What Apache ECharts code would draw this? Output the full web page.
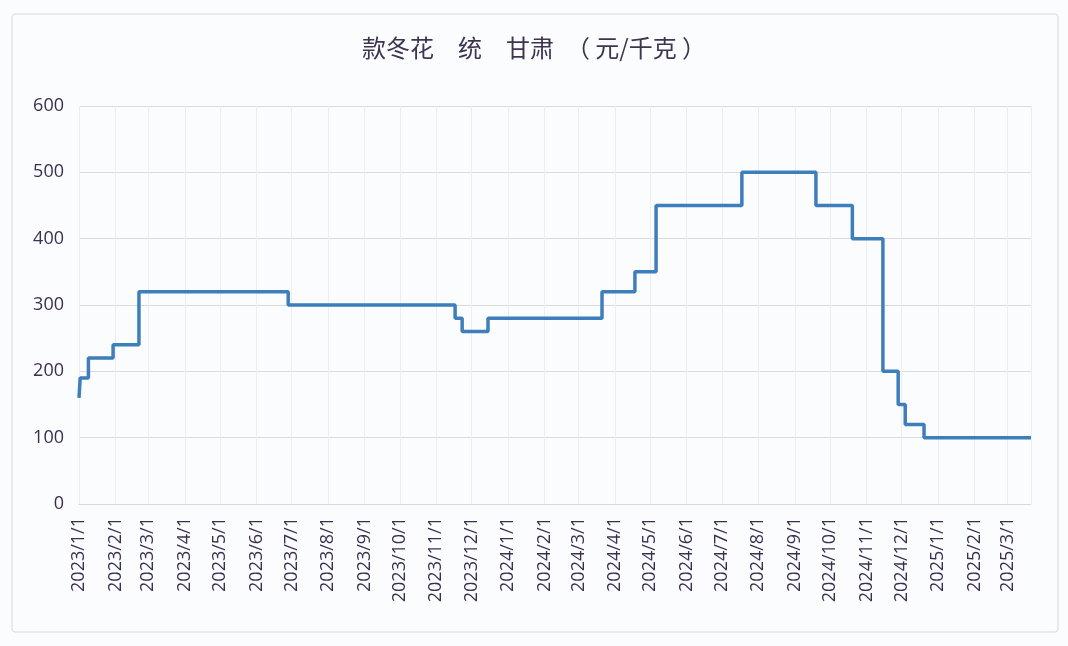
<!DOCTYPE html>
<html><head><meta charset="utf-8">
<script src="https://cdn.jsdelivr.net/npm/echarts@6/dist/echarts.min.js"></script>
<style>html,body{margin:0;padding:0;background:#fbfcfe;}#c{width:1068px;height:646px;}</style>
</head><body><div id="c"></div>
<script>
const titleText = '款冬花\u3000统\u3000甘肃\u2002（ 元/千克 ）';
const dates = ['2023-01-01','2023-01-02','2023-01-09','2023-01-30','2023-02-21','2023-06-28','2023-11-17','2023-11-23','2023-12-15','2024-03-21','2024-04-18','2024-05-06','2024-07-18','2024-09-19','2024-10-20','2024-11-15','2024-11-28','2024-12-04','2024-12-20','2025-03-21'];
const prices = [160,190,220,240,320,300,280,260,280,320,350,450,500,450,400,200,150,120,100,100];
const yTicks = [0,100,200,300,400,500,600];
const xMin = '2023-01-01';
const xMax = '2025-03-21';

const DAY = 86400000;
const chart = echarts.init(document.getElementById('c'));
chart.setOption({
  backgroundColor: '#fbfcfe',
  animation: false,
  graphic: [{type:'rect', shape:{x:12,y:14,width:1046,height:618,r:3}, style:{fill:'none', stroke:'#d6d9de', lineWidth:1}, silent:true}],
  title: {text: titleText, left: 'center', top: 31,
    textStyle: {fontFamily:'Noto Sans CJK SC', fontWeight:'normal', fontSize:24, color:'#3d3450'}},
  grid: {left: 79, right: 37, top: 106, bottom: 142},
  xAxis: {
    type: 'time', min: xMin, max: xMax,
    minInterval: 28*DAY, maxInterval: 31*DAY,
    axisLine: {show:true, lineStyle:{color:'#d9d9d9'}},
    axisTick: {show:false},
    splitLine: {show:true, lineStyle:{color:'#eceef2', width:1}},
    axisLabel: {rotate: 90, formatter: '{yyyy}/{M}/{d}', fontFamily:'Open Sans', fontSize:18, color:'#3a2f50', margin: 13, showMaxLabel:false, hideOverlap:false}
  },
  yAxis: {
    type: 'value', min: yTicks[0], max: yTicks[yTicks.length-1], interval: 100,
    axisLine: {show:false}, axisTick: {show:false},
    splitLine: {lineStyle:{color:'#d9dbe0'}},
    axisLabel: {fontFamily:'Open Sans', fontSize:18, color:'#3a2f50', margin: 15}
  },
  series: [{
    type: 'line', step: 'end', symbol: 'none',
    data: dates.map((d,i)=>[d, prices[i]]),
    lineStyle: {color:'#3d7ebb', width:3.5}
  }]
});
</script></body></html>
